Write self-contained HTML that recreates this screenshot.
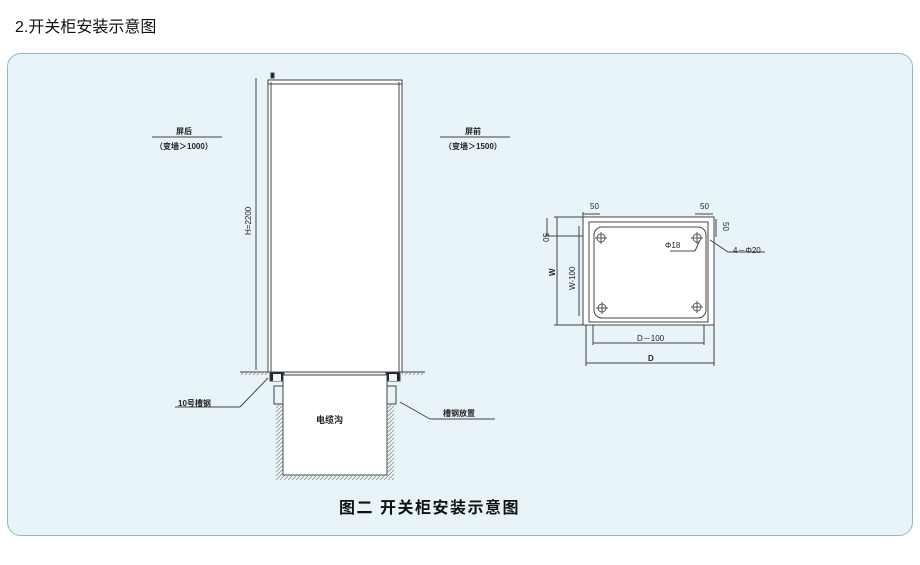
<!DOCTYPE html>
<html><head><meta charset="utf-8"><style>
body{margin:0;width:920px;height:565px;background:#fff;position:relative;overflow:hidden;font-family:"Liberation Sans","Noto Sans CJK SC",sans-serif}
.h{position:absolute;left:15px;top:13px;font-size:16px;color:#111}
.panel{position:absolute;left:7px;top:53px;width:904px;height:481px;border:1px solid #8db6cc;border-radius:14px;background:#e9f4f9}
svg{position:absolute;left:0;top:0}
</style></head><body>
<div class="h">2.开关柜安装示意图</div>
<div class="panel"></div>
<svg width="920" height="565" font-family="Liberation Sans,Noto Sans CJK SC,sans-serif">
<defs><pattern id="ht" width="4" height="4" patternUnits="userSpaceOnUse"><path d="M0 4L4 0" stroke="#888" stroke-width="0.7"/></pattern></defs>
<g stroke="#444" fill="none" stroke-width="1">
<rect x="268" y="80" width="134" height="292" fill="#fff"/>
<line x1="271" y1="82" x2="271" y2="372"/><line x1="399" y1="82" x2="399" y2="372"/>
<line x1="268" y1="84" x2="402" y2="84"/>
<rect x="271" y="73" width="3" height="5" fill="#222"/>
<line x1="256" y1="78" x2="256" y2="370"/>
<line x1="240" y1="372" x2="268" y2="372"/><line x1="402" y1="372" x2="425" y2="372"/>
<rect x="240" y="372" width="28" height="3" fill="url(#ht)" stroke="none"/>
<rect x="402" y="372" width="23" height="3" fill="url(#ht)" stroke="none"/>
<rect x="270" y="372" width="14" height="9" fill="#222"/><rect x="273" y="374" width="8" height="7" fill="#eaf4f9" stroke="none"/>
<rect x="386" y="372" width="14" height="9" fill="#222"/><rect x="389" y="374" width="8" height="7" fill="#eaf4f9" stroke="none"/>
<rect x="274" y="386" width="9" height="18"/><rect x="387" y="386" width="9" height="18"/>
<rect x="283" y="375" width="104" height="100" fill="#fff"/>
<rect x="276" y="404" width="7" height="72" fill="url(#ht)" stroke="none"/>
<rect x="387" y="404" width="7" height="72" fill="url(#ht)" stroke="none"/>
<rect x="276" y="475" width="118" height="5" fill="url(#ht)" stroke="none"/>
<line x1="268" y1="378" x2="240" y2="407"/><line x1="175" y1="407" x2="240" y2="407"/>
<line x1="400" y1="402" x2="430" y2="419"/><line x1="430" y1="419" x2="495" y2="419"/>
<line x1="152" y1="137" x2="222" y2="137"/><line x1="440" y1="137" x2="510" y2="137"/>
<rect x="583" y="217" width="131" height="108" fill="#fff"/>
<rect x="589" y="222" width="119" height="100"/>
<rect x="594" y="227" width="112" height="91" rx="8"/>
<line x1="583" y1="212" x2="583" y2="217"/><line x1="583" y1="214" x2="600" y2="214"/>
<line x1="695" y1="214" x2="713" y2="214"/>
<line x1="557" y1="217" x2="557" y2="325"/><line x1="554" y1="217" x2="583" y2="217"/><line x1="554" y1="325" x2="583" y2="325"/>
<line x1="545" y1="236" x2="583" y2="236"/><line x1="547" y1="218" x2="547" y2="236"/>
<line x1="579" y1="226" x2="579" y2="316"/>
<line x1="716" y1="219" x2="716" y2="237"/>
<line x1="593" y1="343" x2="704" y2="343"/><line x1="593" y1="325" x2="593" y2="345"/><line x1="704" y1="325" x2="704" y2="345"/>
<line x1="586" y1="363" x2="714" y2="363"/><line x1="586" y1="325" x2="586" y2="366"/><line x1="714" y1="325" x2="714" y2="366"/>
<line x1="670" y1="251" x2="695" y2="251"/><line x1="695" y1="251" x2="700" y2="240"/>
<line x1="710" y1="240" x2="728" y2="252"/><line x1="728" y1="252" x2="765" y2="252"/>
<g stroke="#555"><circle cx="601" cy="238" r="4"/><circle cx="697" cy="238" r="4"/><circle cx="602" cy="308" r="4"/><circle cx="697" cy="307" r="4"/>
<path d="M595 238h12M601 232v12M691 238h12M697 232v12M596 308h12M602 302v12M691 307h12M697 301v12"/></g>
</g>
<g font-size="8" fill="#222" font-weight="bold">
<text x="176" y="134">屏后</text><text x="155" y="149">（变墙＞1000）</text>
<text x="465" y="134">屏前</text><text x="444" y="149">（变墙＞1500）</text>
<text x="178" y="406">10号槽钢</text><text x="443" y="416">槽钢放置</text>
<text x="316" y="423" font-size="9">电缆沟</text>
<text transform="translate(251,235) rotate(-90)" font-weight="normal">H=2200</text>
<text x="590" y="209" font-weight="normal">50</text><text x="700" y="209" font-weight="normal">50</text>
<text transform="translate(543,233) rotate(90)" font-weight="normal">50</text>
<text transform="translate(723,222) rotate(90)" font-weight="normal">50</text>
<text transform="translate(555,276) rotate(-90)">W</text>
<text transform="translate(575,290) rotate(-90)" font-weight="normal">W-100</text>
<text x="665" y="248" font-weight="normal">Φ18</text><text x="733" y="253" font-weight="normal">4－Φ20</text>
<text x="637" y="341" font-weight="normal">D－100</text><text x="648" y="361">D</text>
</g>
<text x="339" y="513" font-size="16" font-weight="bold" fill="#111" letter-spacing="1.5">图二  开关柜安装示意图</text>
</svg>
</body></html>
